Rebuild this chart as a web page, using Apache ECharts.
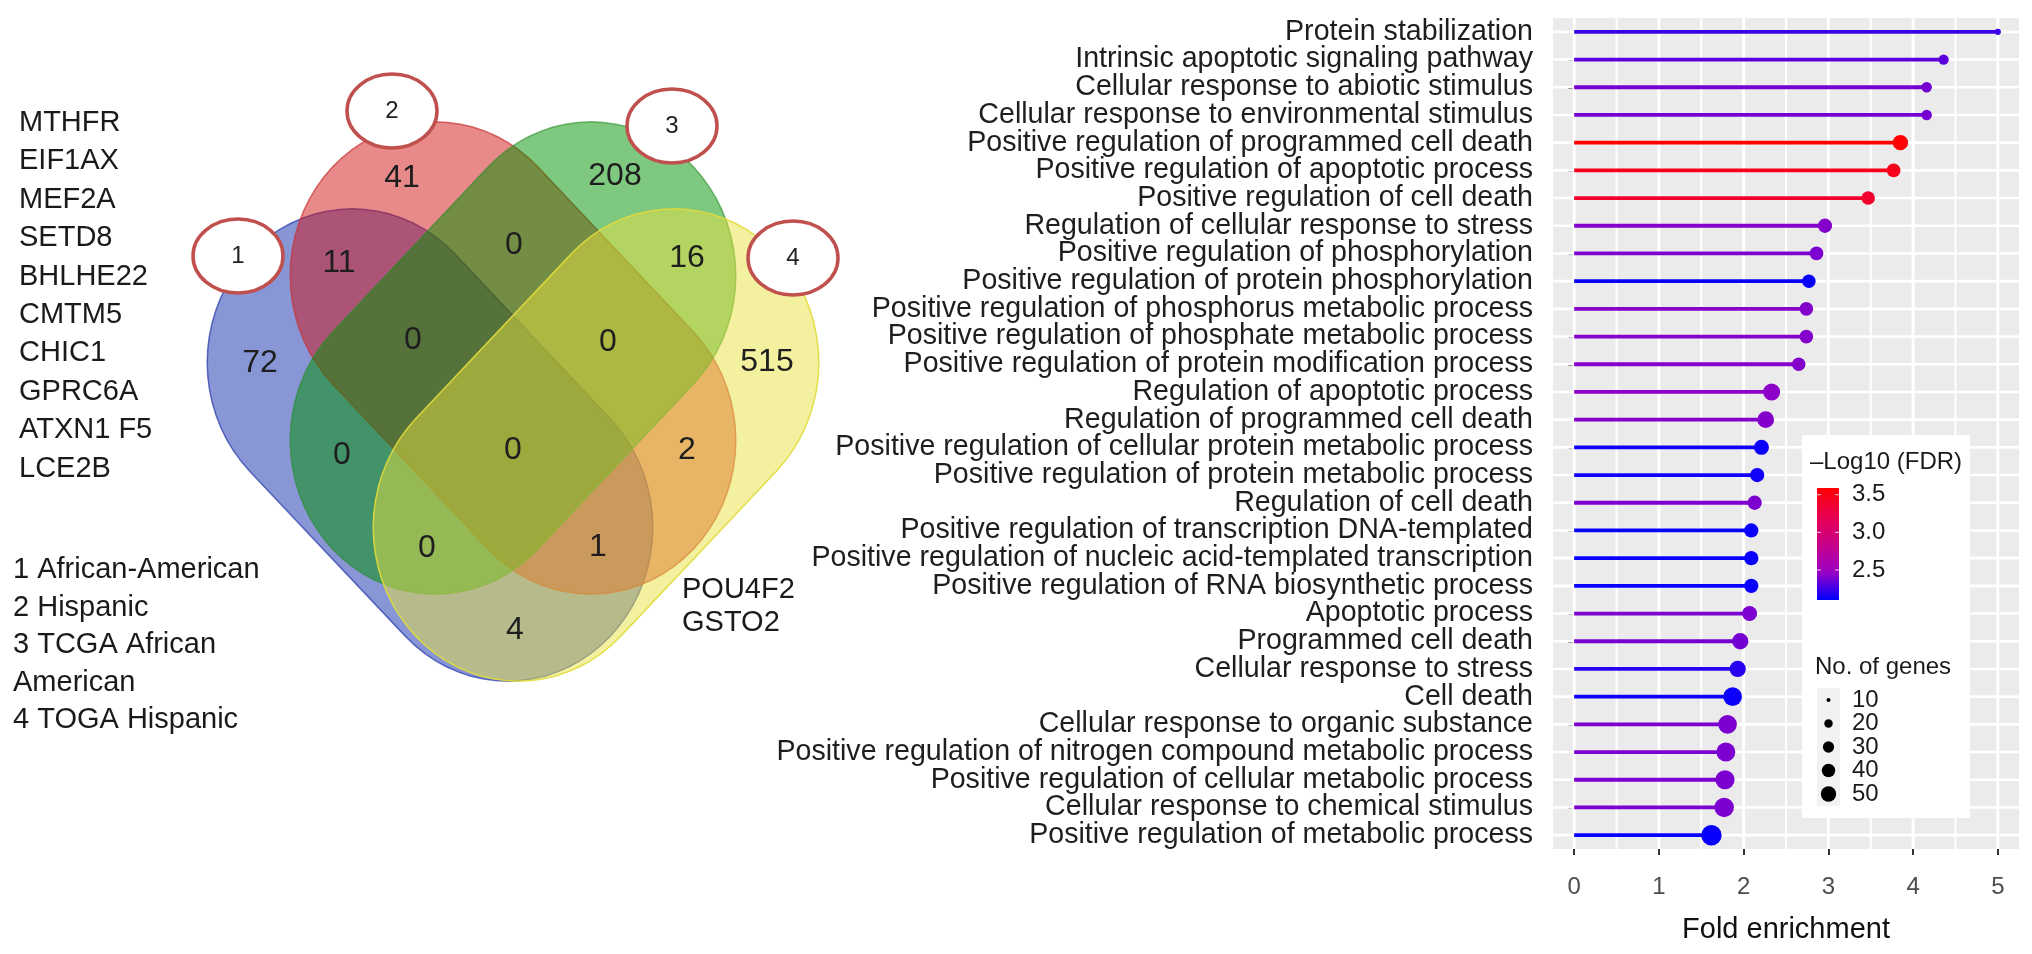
<!DOCTYPE html>
<html>
<head>
<meta charset="utf-8">
<title>Venn diagram and GO enrichment lollipop</title>
<script src="https://cdn.jsdelivr.net/npm/echarts@6/dist/echarts.min.js"></script>
<style>
  html, body { margin: 0; padding: 0; background: #fff; }
  #chart { width: 2032px; height: 954px; }
</style>
</head>
<body>
<div id="chart"></div>
<script>
// ---- GO enrichment data (top to bottom) ----
const terms = [
  'Protein stabilization',
  'Intrinsic apoptotic signaling pathway',
  'Cellular response to abiotic stimulus',
  'Cellular response to environmental stimulus',
  'Positive regulation of programmed cell death',
  'Positive regulation of apoptotic process',
  'Positive regulation of cell death',
  'Regulation of cellular response to stress',
  'Positive regulation of phosphorylation',
  'Positive regulation of protein phosphorylation',
  'Positive regulation of phosphorus metabolic process',
  'Positive regulation of phosphate metabolic process',
  'Positive regulation of protein modification process',
  'Regulation of apoptotic process',
  'Regulation of programmed cell death',
  'Positive regulation of cellular protein metabolic process',
  'Positive regulation of protein metabolic process',
  'Regulation of cell death',
  'Positive regulation of transcription DNA-templated',
  'Positive regulation of nucleic acid-templated transcription',
  'Positive regulation of RNA biosynthetic process',
  'Apoptotic process',
  'Programmed cell death',
  'Cellular response to stress',
  'Cell death',
  'Cellular response to organic substance',
  'Positive regulation of nitrogen compound metabolic process',
  'Positive regulation of cellular metabolic process',
  'Cellular response to chemical stimulus',
  'Positive regulation of metabolic process'
];
const foldEnrichment = [5.0, 4.36, 4.16, 4.16, 3.85, 3.77, 3.47, 2.96, 2.86, 2.77,
  2.74, 2.74, 2.65, 2.33, 2.26, 2.21, 2.16, 2.13, 2.09, 2.09,
  2.09, 2.07, 1.96, 1.93, 1.87, 1.81, 1.79, 1.78, 1.77, 1.62];
const negLog10FDR = [2.24, 2.32, 2.38, 2.38, 3.59, 3.47, 3.38, 2.42, 2.4, 2.12,
  2.42, 2.42, 2.42, 2.44, 2.42, 2.13, 2.14, 2.4, 2.12, 2.12,
  2.12, 2.4, 2.38, 2.2, 2.13, 2.4, 2.4, 2.4, 2.4, 2.12];
const geneCount = [14, 26, 27, 27, 50, 41, 40, 44, 41, 40,
  41, 41, 40, 60, 58, 48, 44, 44, 44, 44,
  44, 48, 55, 55, 70, 70, 72, 74, 76, 83];
const foldTicks = [0, 1, 2, 3, 4, 5];
const foldMinorTicks = [0.5, 1.5, 2.5, 3.5, 4.5];
const fdrBreaks = [3.5, 3.0, 2.5];
const geneBreaks = [10, 20, 30, 40, 50];

// ---- Venn data ----
const vennSets = ['1', '2', '3', '4'];
const regionKeys = ['1', '2', '3', '4', '12', '23', '34', '123', '234', '13', '24', '1234', '134', '124', '14'];
const regionCounts = [72, 41, 208, 515, 11, 0, 16, 0, 0, 0, 2, 0, 0, 1, 4];
const groupNames = ['1 African-American', '2 Hispanic', '3 TCGA African', 'American', '4 TOGA Hispanic'];
const sharedLeft = ['MTHFR', 'EIF1AX', 'MEF2A', 'SETD8', 'BHLHE22', 'CMTM5', 'CHIC1', 'GPRC6A', 'ATXN1 F5', 'LCE2B'];
const sharedRight = ['POU4F2', 'GSTO2'];

// ---- layout / style ----
const FONT = '"Liberation Sans", Arial, Helvetica, sans-serif';
const fdrMin = 2.1, fdrMax = 3.59;
const fdrColors = ['#0000ff', '#9a00c3', '#c90088', '#e80050', '#ff0000'];
function dotSize(n) { return 2.35 * Math.sqrt(Math.max(n - 7, 0)); }

const vennShape = { length: 510, width: 290, stretchY: 1.06 };
const setLayout = {
  '1': { cx: 430, cy: 445, angle: 45, fill: 'rgba(17,45,173,0.5)', stroke: 'rgba(50,65,175,0.75)' },
  '2': { cx: 513, cy: 358, angle: 45, fill: 'rgba(209,19,21,0.5)', stroke: 'rgba(200,50,50,0.7)' },
  '3': { cx: 513, cy: 358, angle: -45, fill: 'rgba(0,145,0,0.5)', stroke: 'rgba(40,140,40,0.6)' },
  '4': { cx: 596, cy: 445, angle: -45, fill: 'rgba(231,225,65,0.5)', stroke: 'rgba(225,220,60,0.9)' }
};
const setLabelPos = { '1': [238, 256], '2': [392, 111], '3': [672, 126], '4': [793, 258] };
const regionPos = {
  '1': [260, 363], '2': [402, 178], '3': [615, 176], '4': [767, 362],
  '12': [339, 263], '23': [514, 245], '34': [687, 258],
  '123': [413, 340], '234': [608, 342], '13': [342, 455], '24': [687, 450],
  '1234': [513, 450], '134': [427, 548], '124': [598, 547], '14': [515, 630]
};

function stadiumPoints(cx, cy, angleDeg) {
  const d = (vennShape.length - vennShape.width) / 2;
  const r = vennShape.width / 2;
  const t = angleDeg * Math.PI / 180;
  const ux = Math.cos(t), uy = Math.sin(t);
  const pts = [];
  [[d, t - Math.PI / 2], [-d, t + Math.PI / 2]].forEach(([off, a0]) => {
    for (let k = 0; k <= 36; k++) {
      const a = a0 + Math.PI * k / 36;
      pts.push([cx + off * ux + r * Math.cos(a), cy + (off * uy + r * Math.sin(a)) * vennShape.stretchY]);
    }
  });
  return pts;
}

function textEl(text, x, y, size) {
  return {
    type: 'text', x: x, y: y, z: 101,
    style: { text: text, fontSize: size, fontFamily: FONT, fill: '#1a1a1a',
      verticalAlign: 'middle', textVerticalAlign: 'middle', align: 'left', textAlign: 'left' }
  };
}

// ---- graphic: left text + legend ----
const graphics = [];
sharedLeft.forEach((g, i) => graphics.push(textEl(g, 19, 123 + i * 38.4, 29)));
groupNames.forEach((g, i) => graphics.push(textEl(g, 13, 570 + i * 37.5, 29)));
sharedRight.forEach((g, i) => graphics.push(textEl(g, 682, 590 + i * 33, 29)));

const legendBox = { x: 1802, y: 435, w: 168, h: 383 };
graphics.push({ type: 'rect', z: 100, shape: { x: legendBox.x, y: legendBox.y, width: legendBox.w, height: legendBox.h }, style: { fill: '#fff' } });
graphics.push(textEl('\u2013Log10 (FDR)', 1810, 462, 24));
const bar = { x: 1817, y: 488, w: 22, h: 112 };
graphics.push({
  type: 'rect', z: 101, shape: { x: bar.x, y: bar.y, width: bar.w, height: bar.h },
  style: { fill: new echarts.graphic.LinearGradient(0, 1, 0, 0,
    fdrColors.map((c, i) => ({ offset: i / (fdrColors.length - 1), color: c }))) }
});
fdrBreaks.forEach(v => {
  const y = bar.y + bar.h - (v - fdrMin) / (fdrMax - fdrMin) * bar.h;
  graphics.push({ type: 'line', z: 102, shape: { x1: bar.x, y1: y, x2: bar.x + 4, y2: y }, style: { stroke: 'rgba(255,255,255,0.8)', lineWidth: 1 } });
  graphics.push({ type: 'line', z: 102, shape: { x1: bar.x + bar.w - 4, y1: y, x2: bar.x + bar.w, y2: y }, style: { stroke: 'rgba(255,255,255,0.8)', lineWidth: 1 } });
  graphics.push(textEl(v.toFixed(1), 1852, y, 24));
});
graphics.push(textEl('No. of genes', 1815, 667, 24));
graphics.push({ type: 'rect', z: 101, shape: { x: 1817, y: 688, width: 23, height: 118 }, style: { fill: '#f2f2f2' } });
geneBreaks.forEach((n, i) => {
  const y = 700 + i * 23.5;
  graphics.push({ type: 'circle', z: 102, shape: { cx: 1828.5, cy: y, r: dotSize(n) / 2 }, style: { fill: '#000' } });
  graphics.push(textEl(String(n), 1852, y, 24));
});

const chart = echarts.init(document.getElementById('chart'));

const option = {
  animation: false,
  textStyle: { fontFamily: FONT },
  grid: [
    { left: 1553, top: 18, width: 466, height: 831, show: true, backgroundColor: '#ebebeb', borderWidth: 0, containLabel: false, outerBoundsMode: 'none' },
    { left: 0, top: 0, width: 1000, height: 954, containLabel: false, outerBoundsMode: 'none' }
  ],
  xAxis: [
    {
      gridIndex: 0, type: 'value', min: -0.25, max: 5.25,
      splitLine: { show: false }, axisLine: { show: false },
      axisTick: { show: true, length: 6, lineStyle: { color: '#333', width: 2 }, customValues: foldTicks },
      axisLabel: { customValues: foldTicks, fontSize: 24, color: '#4d4d4d', margin: 26,
        formatter: v => (Number.isInteger(v) ? String(v) : '') },
      name: 'Fold enrichment', nameLocation: 'middle', nameGap: 66,
      nameTextStyle: { fontSize: 29, color: '#111' }
    },
    { gridIndex: 1, type: 'value', min: 0, max: 1000, show: false }
  ],
  yAxis: [
    {
      gridIndex: 0, type: 'category', data: terms, inverse: true,
      axisLine: { show: false }, splitLine: { show: false },
      axisTick: { show: true, alignWithLabel: true, length: 6, lineStyle: { color: '#333', width: 2 } },
      axisLabel: { interval: 0, hideOverlap: false, fontSize: 28.6, color: '#1e1e1e', margin: 20 }
    },
    { gridIndex: 1, type: 'value', min: 0, max: 954, inverse: true, show: false }
  ],
  visualMap: [{
    type: 'continuous', show: false, seriesIndex: 3, dimension: 2,
    min: fdrMin, max: fdrMax, inRange: { color: fdrColors }
  }],
  series: [
    {
      type: 'custom', name: 'rowGrid', xAxisIndex: 0, yAxisIndex: 0, silent: true, z: 1,
      data: terms.map((t, i) => [0, i]), encode: { x: 0, y: 1 },
      renderItem(params, api) {
        const cs = params.coordSys;
        const y = api.coord([0, api.value(1)])[1];
        return { type: 'line', shape: { x1: cs.x, y1: y, x2: cs.x + cs.width, y2: y }, style: { stroke: '#fff', lineWidth: 2.6 } };
      }
    },
    {
      type: 'custom', name: 'majorGrid', xAxisIndex: 0, yAxisIndex: 0, silent: true, z: 1,
      data: foldTicks.map(v => [v, 0]), encode: { x: 0, y: 1 },
      renderItem(params, api) {
        const cs = params.coordSys;
        const x = api.coord([api.value(0), 0])[0];
        return { type: 'line', shape: { x1: x, y1: cs.y, x2: x, y2: cs.y + cs.height }, style: { stroke: '#fff', lineWidth: 3 } };
      }
    },
    {
      type: 'custom', name: 'minorGrid', xAxisIndex: 0, yAxisIndex: 0, silent: true, z: 1,
      data: foldMinorTicks.map(v => [v, 0]), encode: { x: 0, y: 1 },
      renderItem(params, api) {
        const cs = params.coordSys;
        const x = api.coord([api.value(0), 0])[0];
        return { type: 'line', shape: { x1: x, y1: cs.y, x2: x, y2: cs.y + cs.height }, style: { stroke: '#fff', lineWidth: 2 } };
      }
    },
    {
      type: 'custom', name: 'GO terms', xAxisIndex: 0, yAxisIndex: 0, z: 3,
      data: terms.map((t, i) => [foldEnrichment[i], i, negLog10FDR[i], geneCount[i]]),
      encode: { x: 0, y: 1 },
      renderItem(params, api) {
        const row = api.value(1);
        const p0 = api.coord([0, row]);
        const p1 = api.coord([api.value(0), row]);
        const color = api.visual('color');
        return {
          type: 'group', children: [
            { type: 'line', shape: { x1: p0[0], y1: p0[1], x2: p1[0], y2: p1[1] }, style: { stroke: color, lineWidth: 3.8 } },
            { type: 'circle', shape: { cx: p1[0], cy: p1[1], r: dotSize(api.value(3)) / 2 }, style: { fill: color } }
          ]
        };
      }
    },
    {
      type: 'custom', name: 'vennSets', xAxisIndex: 1, yAxisIndex: 1, silent: true, z: 2,
      data: vennSets.map(s => [setLayout[s].cx, setLayout[s].cy, setLayout[s].angle]),
      renderItem(params, api) {
        const s = setLayout[vennSets[params.dataIndex]];
        const pts = stadiumPoints(api.value(0), api.value(1), api.value(2)).map(p => api.coord(p));
        return { type: 'polygon', shape: { points: pts }, style: { fill: s.fill, stroke: s.stroke, lineWidth: 1.5 } };
      }
    },
    {
      type: 'custom', name: 'vennCounts', xAxisIndex: 1, yAxisIndex: 1, silent: true, z: 4,
      data: regionKeys.map((k, i) => [regionPos[k][0], regionPos[k][1], regionCounts[i]]),
      renderItem(params, api) {
        const p = api.coord([api.value(0), api.value(1)]);
        return {
          type: 'text', x: p[0], y: p[1],
          style: { text: String(api.value(2)), fontSize: 32, fontFamily: FONT, fill: '#1e1e1e',
            align: 'center', textAlign: 'center', verticalAlign: 'middle', textVerticalAlign: 'middle' }
        };
      }
    },
    {
      type: 'custom', name: 'setLabels', xAxisIndex: 1, yAxisIndex: 1, silent: true, z: 5,
      data: vennSets.map(s => [setLabelPos[s][0], setLabelPos[s][1]]),
      renderItem(params, api) {
        const p = api.coord([api.value(0), api.value(1)]);
        return {
          type: 'group', children: [
            { type: 'ellipse', shape: { cx: p[0], cy: p[1], rx: 45, ry: 37 }, style: { fill: '#fff', stroke: '#c0504d', lineWidth: 3.5 } },
            { type: 'text', x: p[0], y: p[1], style: { text: vennSets[params.dataIndex], fontSize: 24, fontFamily: FONT, fill: '#222',
              align: 'center', textAlign: 'center', verticalAlign: 'middle', textVerticalAlign: 'middle' } }
          ]
        };
      }
    }
  ],
  graphic: { elements: graphics }
};

chart.setOption(option);
</script>
</body>
</html>
